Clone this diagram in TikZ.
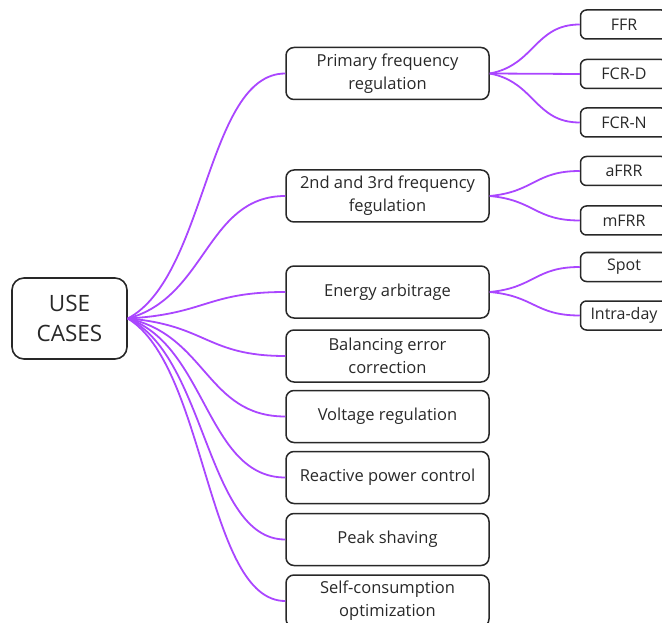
\documentclass[tikz,border=0pt]{standalone}
\usepackage{fontspec}
\setmainfont{Open Sans}
\usetikzlibrary{calc}
\definecolor{linkpurple}{RGB}{170,70,255}
\definecolor{boxgray}{RGB}{40,40,40}
\tikzset{
    rootbox/.style={
        rectangle,
        rounded corners=12pt,
        draw=boxgray,
        line width=1.6pt,
        minimum width=115pt,
        minimum height=81pt,
        align=center,
        text=boxgray,
        font=\fontsize{22.5}{30}\selectfont
    },
    casebox/.style={
        rectangle,
        rounded corners=8pt,
        draw=boxgray,
        line width=1.5pt,
        minimum width=203pt,
        minimum height=52pt,
        align=center,
        text=boxgray,
        font=\fontsize{16.5}{23}\selectfont
    },
    marketbox/.style={
        rectangle,
        rounded corners=6pt,
        draw=boxgray,
        line width=1.5pt,
        minimum width=87pt,
        minimum height=29pt,
        align=center,
        text=boxgray,
        font=\fontsize{16}{18}\selectfont
    },
    branch/.style={
        draw=linkpurple,
        line width=1.8pt,
        to path={let \p1=(\tikztostart), \p2=(\tikztotarget) in
            .. controls ({\x1+0.5*(\x2-\x1)},{\y1+0.17*(\y2-\y1)})
            and ({\x2-0.5*(\x2-\x1)},{\y2}) .. (\tikztotarget)}
    }
}

\begin{document}
\begin{tikzpicture}[x=1pt, y=-1pt]
\useasboundingbox (0,0) rectangle (662,623);

\node (root) [rootbox] at (69.5,318.5) {USE\\CASES};

% use cases
\node (primary) [casebox] at (387.5,73.5) {Primary frequency\\regulation};
\node (secondary) [casebox] at (387.5,196) {2nd and 3rd frequency\\fegulation};
\node (arbitrage) [casebox] at (387.5,292) {Energy arbitrage};
\node (balancing) [casebox] at (387.5,356) {Balancing error\\correction};
\node (voltage) [casebox] at (387.5,416.5) {Voltage regulation};
\node (reactive) [casebox] at (387.5,477.5) {Reactive power control};
\node (peak) [casebox] at (387.5,539.5) {Peak shaving};
\node (selfcons) [casebox] at (387.5,601) {Self-consumption\\optimization};

% markets
\node (ffr) [marketbox] at (624,24.5) {FFR};
\node (fcrd) [marketbox] at (624,74) {FCR-D};
\node (fcrn) [marketbox] at (624,122.5) {FCR-N};
\node (afrr) [marketbox] at (624,171) {aFRR};
\node (mfrr) [marketbox] at (624,220.5) {mFRR};
\node (spot) [marketbox] at (624,267) {Spot};
\node (intraday) [marketbox] at (624,315.5) {Intra-day};

\draw [branch] (root.east) to (primary.west);
\draw [branch] (root.east) to (secondary.west);
\draw [branch] (root.east) to (arbitrage.west);
\draw [branch] (root.east) to (balancing.west);
\draw [branch] (root.east) to (voltage.west);
\draw [branch] (root.east) to (reactive.west);
\draw [branch] (root.east) to (peak.west);
\draw [branch] (root.east) to (selfcons.west);

\draw [branch] (primary.east) to (ffr.west);
\draw [branch] (primary.east) to (fcrd.west);
\draw [branch] (primary.east) to (fcrn.west);
\draw [branch] (secondary.east) to (afrr.west);
\draw [branch] (secondary.east) to (mfrr.west);
\draw [branch] (arbitrage.east) to (spot.west);
\draw [branch] (arbitrage.east) to (intraday.west);

\end{tikzpicture}
\end{document}
